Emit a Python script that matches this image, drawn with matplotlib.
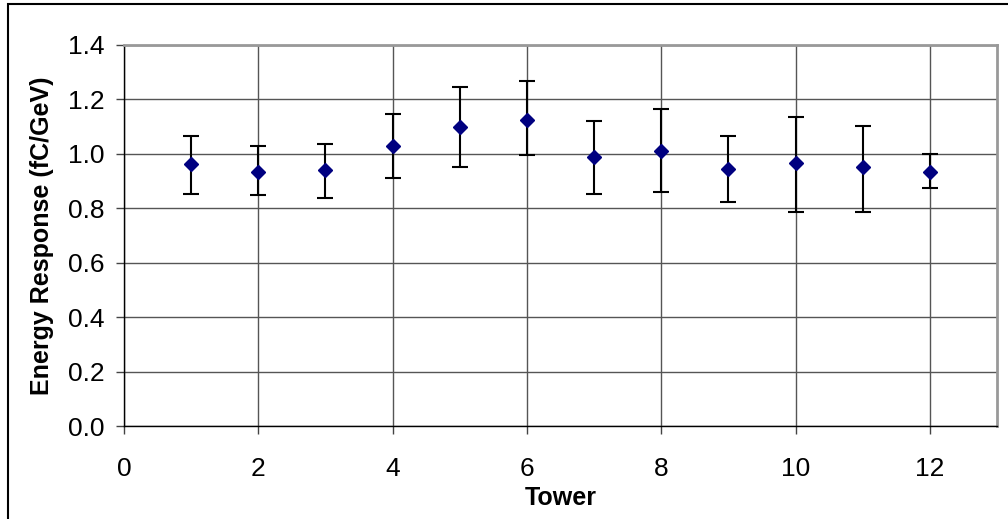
import matplotlib.pyplot as plt
import numpy as np
from matplotlib.patches import Rectangle

plt.rcParams['font.family'] = ['Liberation Sans', 'DejaVu Sans']

# data
tower = [1, 2, 3, 4, 5, 6, 7, 8, 9, 10, 11, 12]
response = [0.963, 0.935, 0.941, 1.030, 1.097, 1.126, 0.987, 1.009, 0.943, 0.965, 0.950, 0.935]
err_high = [1.067, 1.030, 1.037, 1.147, 1.244, 1.266, 1.119, 1.163, 1.067, 1.134, 1.104, 1.001]
err_low = [0.854, 0.847, 0.839, 0.913, 0.950, 0.994, 0.854, 0.860, 0.824, 0.788, 0.788, 0.876]

y = np.array(response)
yerr = [y - np.array(err_low), np.array(err_high) - y]

fig = plt.figure(figsize=(10.08, 5.19), dpi=100)
ax = fig.add_axes([124 / 1008, 1 - 426 / 519, (997 - 124) / 1008, (426 - 45) / 519])

ax.errorbar(tower, response, yerr=yerr, fmt='D', color='#000080', markersize=7.5,
            ecolor='black', elinewidth=1.5, capsize=6, capthick=1.5, zorder=3)

ax.set_xlim(0, 13)
ax.set_ylim(0, 1.4)
ax.set_xticks(np.arange(0, 13, 2))
ax.set_yticks(np.arange(0, 1.41, 0.2))
ax.yaxis.set_major_formatter(plt.FuncFormatter(lambda v, p: f'{v:.1f}'))
ax.grid(True, color='#555555', linewidth=1.0, zorder=0)
ax.set_axisbelow(True)
ax.tick_params(axis='both', labelsize=19, direction='out', length=6, width=1, color='#444444')
ax.tick_params(axis='y', pad=8)
ax.tick_params(axis='x', pad=16)

for side in ['top', 'right']:
    ax.spines[side].set_color('#999999')
    ax.spines[side].set_linewidth(2)
for side in ['left', 'bottom']:
    ax.spines[side].set_color('black')
    ax.spines[side].set_linewidth(1)

ax.set_xlabel('Tower', fontsize=18, fontweight='bold', labelpad=4)
ax.set_ylabel('Energy Response (fC/GeV)', fontsize=18, fontweight='bold', labelpad=10)

# outer frame of the chart area
fig.patches.append(Rectangle((8 / 1008, -0.1), 1.2, 1.1 - 4 / 519, transform=fig.transFigure,
                             fill=False, edgecolor='black', linewidth=1.5))

fig.savefig('out.png', dpi=100)
